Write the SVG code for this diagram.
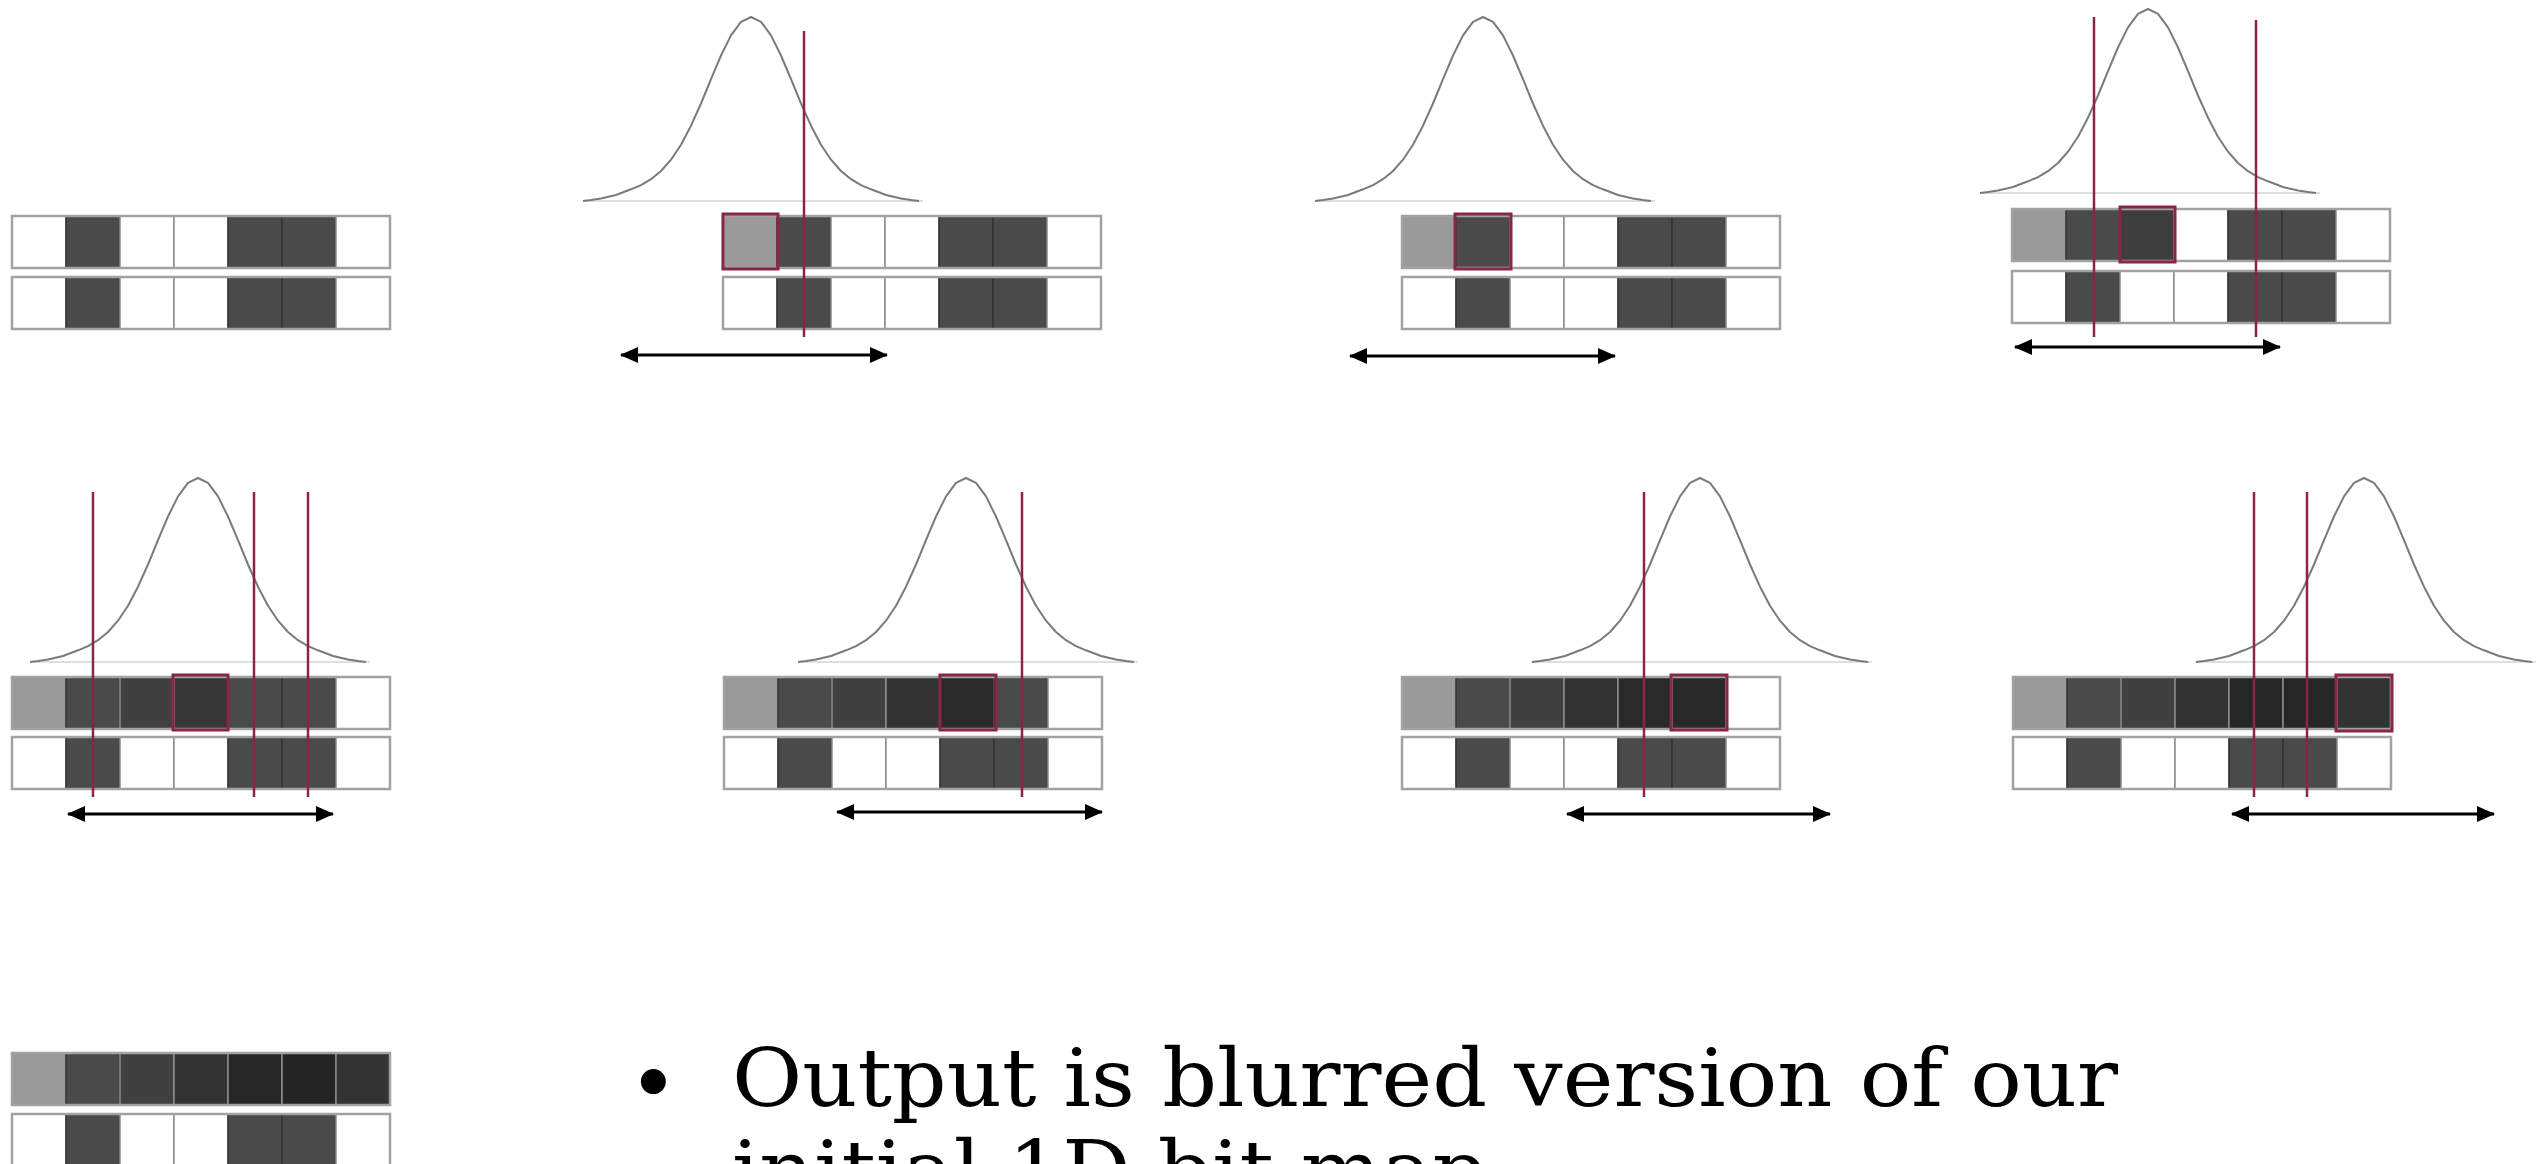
<svg xmlns="http://www.w3.org/2000/svg" xmlns:xlink="http://www.w3.org/1999/xlink" width="2547" height="1164" viewBox="0 0 2547 1164">
<style>
.c{stroke:#8c8c8c;stroke-width:1.5}
.w{fill:#ffffff}
.d{fill:#4a4a4a;stroke:#333}
.g{fill:#9a9a9a}
.frame{fill:none;stroke:#a2a2a2;stroke-width:2.5}
.hl{fill:none;stroke:#8a2548;stroke-width:3}
.red{stroke:#8a2548;stroke-width:2.5}
.gauss{fill:none;stroke:#7a7a7a;stroke-width:2;stroke-linejoin:round}
.base{stroke:#d4d4d4;stroke-width:1.5}
.arr{stroke:#000;stroke-width:3;marker-start:url(#ah);marker-end:url(#ah)}
.txt{font-family:"DejaVu Serif","Liberation Serif",serif;font-size:80px;fill:#000}
</style>
<defs>
<marker id="ah" markerUnits="userSpaceOnUse" markerWidth="18" markerHeight="16" viewBox="0 0 18 16" refX="17" refY="8" orient="auto-start-reverse">
<path d="M0,0 L18,8 L0,16 z" fill="#000"/>
</marker>
<g id="gaussian">
<line class="base" x1="-168" y1="0" x2="172" y2="0"/>
<path class="gauss" d="M-168,0 L-160,-1 L-150,-2.5 L-135,-6 L-120,-11.7 L-110,-15.9 L-100,-21.8 L-90,-30 L-80,-41.3 L-70,-56.3 L-60,-75.3 L-50,-97.5 L-40,-121.8 L-30,-145.5 L-20,-165.6 L-10,-179.2 L0,-184 L10,-179.2 L20,-165.6 L30,-145.5 L40,-121.8 L50,-97.5 L60,-75.3 L70,-56.3 L80,-41.3 L90,-30 L100,-21.8 L110,-15.9 L120,-11.7 L135,-6 L150,-2.5 L160,-1 L168,0"/>
</g>
<g id="inrow">
<rect class="c w" x="0" y="0" width="54" height="52"/>
<rect class="c d" x="54" y="0" width="54" height="52"/>
<rect class="c w" x="108" y="0" width="54" height="52"/>
<rect class="c w" x="162" y="0" width="54" height="52"/>
<rect class="c d" x="216" y="0" width="54" height="52"/>
<rect class="c d" x="270" y="0" width="54" height="52"/>
<rect class="c w" x="324" y="0" width="54" height="52"/>
<rect class="frame" x="0" y="0" width="378" height="52"/>
</g>
</defs>
<rect x="0" y="0" width="2547" height="1164" fill="#ffffff"/>

<g id="panel1">
<use xlink:href="#inrow" href="#inrow" transform="translate(12,216)"/>
<use xlink:href="#inrow" href="#inrow" transform="translate(12,277)"/>
</g>

<g id="panel2">
<use xlink:href="#gaussian" href="#gaussian" transform="translate(751,201)"/>
<g transform="translate(723,216)">
<rect class="c g" x="0" y="0" width="54" height="52"/>
<rect class="c d" x="54" y="0" width="54" height="52"/>
<rect class="c w" x="108" y="0" width="54" height="52"/>
<rect class="c w" x="162" y="0" width="54" height="52"/>
<rect class="c d" x="216" y="0" width="54" height="52"/>
<rect class="c d" x="270" y="0" width="54" height="52"/>
<rect class="c w" x="324" y="0" width="54" height="52"/>
<rect class="frame" x="0" y="0" width="378" height="52"/>
</g>
<use xlink:href="#inrow" href="#inrow" transform="translate(723,277)"/>
<line class="red" x1="804" y1="31" x2="804" y2="337"/>
<rect class="hl" x="723" y="214" width="55" height="55"/>
</g>

<g id="panel3">
<use xlink:href="#gaussian" href="#gaussian" transform="translate(1483,201)"/>
<g transform="translate(1402,216)">
<rect class="c g" x="0" y="0" width="54" height="52"/>
<rect class="c d" x="54" y="0" width="54" height="52"/>
<rect class="c w" x="108" y="0" width="54" height="52"/>
<rect class="c w" x="162" y="0" width="54" height="52"/>
<rect class="c d" x="216" y="0" width="54" height="52"/>
<rect class="c d" x="270" y="0" width="54" height="52"/>
<rect class="c w" x="324" y="0" width="54" height="52"/>
<rect class="frame" x="0" y="0" width="378" height="52"/>
</g>
<use xlink:href="#inrow" href="#inrow" transform="translate(1402,277)"/>
<rect class="hl" x="1455" y="214" width="56" height="55"/>
</g>

<g id="panel4">
<use xlink:href="#gaussian" href="#gaussian" transform="translate(2148,193)"/>
<g transform="translate(2012,209)">
<rect class="c g" x="0" y="0" width="54" height="52"/>
<rect class="c d" x="54" y="0" width="54" height="52"/>
<rect class="c" x="108" y="0" width="54" height="52" fill="#3e3e3e" stroke="#333"/>
<rect class="c w" x="162" y="0" width="54" height="52"/>
<rect class="c d" x="216" y="0" width="54" height="52"/>
<rect class="c d" x="270" y="0" width="54" height="52"/>
<rect class="c w" x="324" y="0" width="54" height="52"/>
<rect class="frame" x="0" y="0" width="378" height="52"/>
</g>
<use xlink:href="#inrow" href="#inrow" transform="translate(2012,271)"/>
<line class="red" x1="2094" y1="17" x2="2094" y2="337"/>
<line class="red" x1="2256" y1="20" x2="2256" y2="337"/>
<rect class="hl" x="2120" y="207" width="55" height="55"/>
</g>

<g id="panel5">
<use xlink:href="#gaussian" href="#gaussian" transform="translate(198,662)"/>
<g transform="translate(12,677)">
<rect class="c g" x="0" y="0" width="54" height="52"/>
<rect class="c d" x="54" y="0" width="54" height="52"/>
<rect class="c" x="108" y="0" width="54" height="52" fill="#404040" stroke="#333"/>
<rect class="c" x="162" y="0" width="54" height="52" fill="#363636" stroke="#333"/>
<rect class="c d" x="216" y="0" width="54" height="52"/>
<rect class="c d" x="270" y="0" width="54" height="52"/>
<rect class="c w" x="324" y="0" width="54" height="52"/>
<rect class="frame" x="0" y="0" width="378" height="52"/>
</g>
<use xlink:href="#inrow" href="#inrow" transform="translate(12,737)"/>
<line class="red" x1="93" y1="492" x2="93" y2="797"/>
<line class="red" x1="254" y1="492" x2="254" y2="797"/>
<line class="red" x1="308" y1="492" x2="308" y2="797"/>
<rect class="hl" x="173" y="675" width="55" height="55"/>
</g>

<g id="panel6">
<use xlink:href="#gaussian" href="#gaussian" transform="translate(966,662)"/>
<g transform="translate(724,677)">
<rect class="c g" x="0" y="0" width="54" height="52"/>
<rect class="c d" x="54" y="0" width="54" height="52"/>
<rect class="c" x="108" y="0" width="54" height="52" fill="#404040" stroke="#333"/>
<rect class="c" x="162" y="0" width="54" height="52" fill="#333333" stroke="#2a2a2a"/>
<rect class="c" x="216" y="0" width="54" height="52" fill="#2a2a2a" stroke="#222"/>
<rect class="c d" x="270" y="0" width="54" height="52"/>
<rect class="c w" x="324" y="0" width="54" height="52"/>
<rect class="frame" x="0" y="0" width="378" height="52"/>
</g>
<use xlink:href="#inrow" href="#inrow" transform="translate(724,737)"/>
<line class="red" x1="1022" y1="492" x2="1022" y2="797"/>
<rect class="hl" x="940" y="675" width="56" height="55"/>
</g>

<g id="panel7">
<use xlink:href="#gaussian" href="#gaussian" transform="translate(1700,662)"/>
<g transform="translate(1402,677)">
<rect class="c g" x="0" y="0" width="54" height="52"/>
<rect class="c d" x="54" y="0" width="54" height="52"/>
<rect class="c" x="108" y="0" width="54" height="52" fill="#404040" stroke="#333"/>
<rect class="c" x="162" y="0" width="54" height="52" fill="#333333" stroke="#2a2a2a"/>
<rect class="c" x="216" y="0" width="54" height="52" fill="#2a2a2a" stroke="#222"/>
<rect class="c" x="270" y="0" width="54" height="52" fill="#292929" stroke="#222"/>
<rect class="c w" x="324" y="0" width="54" height="52"/>
<rect class="frame" x="0" y="0" width="378" height="52"/>
</g>
<use xlink:href="#inrow" href="#inrow" transform="translate(1402,737)"/>
<line class="red" x1="1644" y1="492" x2="1644" y2="797"/>
<rect class="hl" x="1671" y="675" width="56" height="55"/>
</g>

<g id="panel8">
<use xlink:href="#gaussian" href="#gaussian" transform="translate(2364,662)"/>
<g transform="translate(2013,677)">
<rect class="c g" x="0" y="0" width="54" height="52"/>
<rect class="c d" x="54" y="0" width="54" height="52"/>
<rect class="c" x="108" y="0" width="54" height="52" fill="#404040" stroke="#333"/>
<rect class="c" x="162" y="0" width="54" height="52" fill="#333333" stroke="#2a2a2a"/>
<rect class="c" x="216" y="0" width="54" height="52" fill="#262626" stroke="#1e1e1e"/>
<rect class="c" x="270" y="0" width="54" height="52" fill="#262626" stroke="#1e1e1e"/>
<rect class="c" x="324" y="0" width="54" height="52" fill="#333333" stroke="#2a2a2a"/>
<rect class="frame" x="0" y="0" width="378" height="52"/>
</g>
<g transform="translate(2013,737)">
<rect class="c w" x="0" y="0" width="54" height="52"/>
<rect class="c d" x="54" y="0" width="54" height="52"/>
<rect class="c w" x="108" y="0" width="54" height="52"/>
<rect class="c w" x="162" y="0" width="54" height="52"/>
<rect class="c d" x="216" y="0" width="54" height="52"/>
<rect class="c d" x="270" y="0" width="54" height="52"/>
<rect class="c w" x="324" y="0" width="54" height="52"/>
<rect class="frame" x="0" y="0" width="378" height="52"/>
</g>
<line class="red" x1="2254" y1="492" x2="2254" y2="797"/>
<line class="red" x1="2307" y1="492" x2="2307" y2="797"/>
<rect class="hl" x="2336" y="675" width="56" height="56"/>
</g>

<g id="panel9">
<g transform="translate(12,1053)">
<rect class="c g" x="0" y="0" width="54" height="52"/>
<rect class="c d" x="54" y="0" width="54" height="52"/>
<rect class="c" x="108" y="0" width="54" height="52" fill="#404040" stroke="#333"/>
<rect class="c" x="162" y="0" width="54" height="52" fill="#333333" stroke="#2a2a2a"/>
<rect class="c" x="216" y="0" width="54" height="52" fill="#262626" stroke="#1e1e1e"/>
<rect class="c" x="270" y="0" width="54" height="52" fill="#242424" stroke="#1e1e1e"/>
<rect class="c" x="324" y="0" width="54" height="52" fill="#333333" stroke="#2a2a2a"/>
<rect class="frame" x="0" y="0" width="378" height="52"/>
</g>
<use xlink:href="#inrow" href="#inrow" transform="translate(12,1114)"/>
</g>

<g id="connectors">
<line class="arr" x1="621" y1="355" x2="887" y2="355"/>
<line class="arr" x1="1350" y1="356" x2="1615" y2="356"/>
<line class="arr" x1="2015" y1="347" x2="2280" y2="347"/>
<line class="arr" x1="68" y1="814" x2="333" y2="814"/>
<line class="arr" x1="837" y1="812" x2="1102" y2="812"/>
<line class="arr" x1="1567" y1="814" x2="1830" y2="814"/>
<line class="arr" x1="2232" y1="814" x2="2494" y2="814"/>
</g>

<g id="caption">
<text class="txt" x="628" y="1114" style="font-size:86px">•</text>
<text class="txt" x="732" y="1106" textLength="1386" lengthAdjust="spacingAndGlyphs">Output is blurred version of our</text>
<text class="txt" x="732" y="1198" textLength="755" lengthAdjust="spacingAndGlyphs">initial 1D bit map</text>
</g>
</svg>
